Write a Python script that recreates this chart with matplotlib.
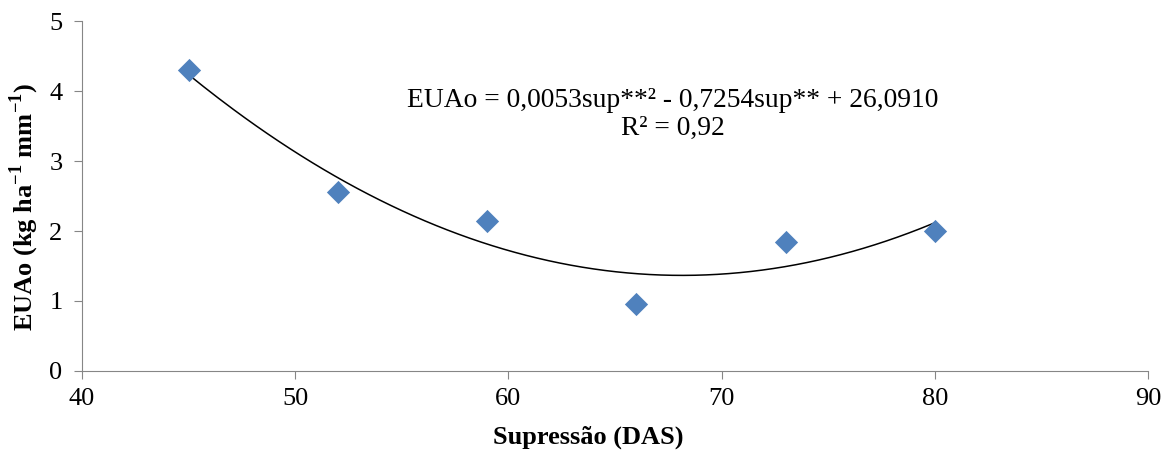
import numpy as np
import matplotlib.pyplot as plt

plt.rcParams['font.family'] = ['Liberation Serif', 'DejaVu Serif']
plt.rcParams['mathtext.fontset'] = 'custom'
plt.rcParams['mathtext.rm'] = 'Liberation Serif'
plt.rcParams['mathtext.bf'] = 'Liberation Serif:bold'

sup = [45, 52, 59, 66, 73, 80]
euao = [4.30, 2.56, 2.14, 0.96, 1.85, 2.00]

x_ticks = [40, 50, 60, 70, 80, 90]
y_ticks = [0, 1, 2, 3, 4, 5]

fig = plt.figure(figsize=(11.73, 4.51), dpi=100)
ax = fig.add_axes([0.0699, 0.1774, 0.9088, 0.776])

# polynomial trendline (2nd order) fitted on the points
coef = np.polyfit(sup, euao, 2)
xs = np.linspace(min(sup), max(sup), 200)
ax.plot(xs, np.polyval(coef, xs), color='black', lw=1.1)

ax.scatter(sup, euao, marker='D', s=140, color='#4F81BD', zorder=3, linewidths=0)

ax.text(67.7, 3.87, 'EUAo = 0,0053sup**² - 0,7254sup** + 26,0910',
        ha='center', va='center', fontsize=19.8)
ax.text(67.7, 3.47, 'R² = 0,92', ha='center', va='center', fontsize=19.8)

ax.set_xlim(40, 90)
ax.set_ylim(0, 5)
ax.set_xticks(x_ticks)
ax.set_yticks(y_ticks)
ax.tick_params(labelsize=19, direction='out', length=6, color='#868686')
ax.tick_params(axis='x', pad=6)
ax.tick_params(axis='y', pad=8)
ax.spines['top'].set_visible(False)
ax.spines['right'].set_visible(False)
for s in ('left', 'bottom'):
    ax.spines[s].set_color('#868686')

fig.text(588 / 1173, 1 - 437 / 451, 'Supressão (DAS)', fontsize=19,
         fontweight='bold', ha='center', va='center')
fig.text(24 / 1173, 1 - 207 / 451,
         'EUAo (kg ha$^{\\mathbf{-1}}$ mm$^{\\mathbf{-1}}$)', fontsize=19,
         fontweight='bold', rotation=90, ha='center', va='center')

fig.savefig('out.png', dpi=100)
